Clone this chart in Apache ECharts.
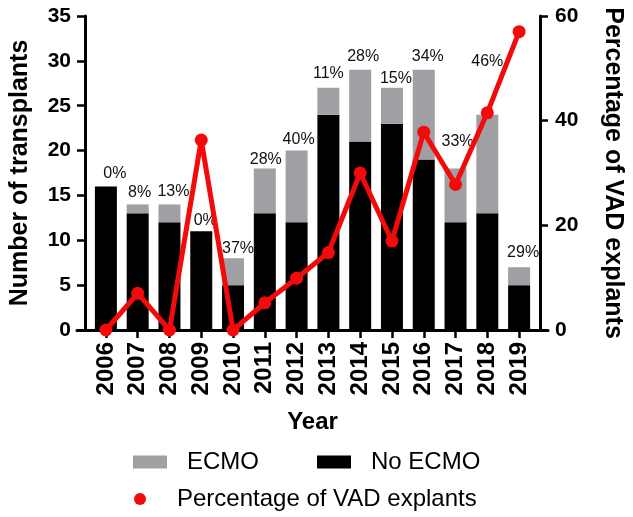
<!DOCTYPE html>
<html>
<head>
<meta charset="utf-8">
<script src="https://cdn.jsdelivr.net/npm/echarts@6/dist/echarts.min.js"></script>
<style>html,body{margin:0;padding:0;background:#fff;}#c{width:633px;height:517px;}</style>
</head>
<body>
<div id="c"></div>
<script>
const years = ['2006','2007','2008','2009','2010','2011','2012','2013','2014','2015','2016','2017','2018','2019'];
const noEcmo = [16,13,12,11,5,13,12,24,21,23,19,12,13,5];
const ecmo = [0,1,2,0,3,5,8,3,8,4,10,6,11,2];
const vadPct = [0,7,0,36.3,0,5.2,9.9,14.8,30,17,37.8,27.8,41.5,57];
const pctLabels = ['0%','8%','13%','0%','37%','28%','40%','11%','28%','15%','34%','33%','46%','29%'];
// label nudges (style only)
const labelDx = [9,2,4,4,5,1,2,0,3,4,4,2,0,4];
const labelLift = [1,0,1,-1,-2,-3,-1,2,1,-3,1,15,41,3];

const FF = '"Liberation Sans", Arial, sans-serif';
const chart = echarts.init(document.getElementById('c'));
const ecmoData = ecmo.map((v,i)=>({
  value: v,
  label: {formatter: pctLabels[i], offset: [labelDx[i], -labelLift[i]]}
}));
chart.setOption({
  animation: false,
  grid: [
    {left: 82, right: 90, top: 16, bottom: 187},
    {left: 77, right: 85, top: 16, bottom: 187}
  ],
  legend: [
    {data: [{name: 'ECMO', icon: 'rect'}, {name: 'No ECMO', icon: 'rect'}], left: 133, top: 450, padding: 0, itemWidth: 34, itemHeight: 13, itemGap: 58,
     textStyle: {fontFamily: FF, fontSize: 24, color: '#000', padding: [0,0,0,15]}},
    {data: [{name: 'Percentage of VAD explants', icon: 'circle'}], left: 134, top: 487, padding: 0, itemWidth: 12, itemHeight: 12,
     textStyle: {fontFamily: FF, fontSize: 24, color: '#000', padding: [0,0,0,26]}}
  ],
  xAxis: [
    {type: 'category', data: years, gridIndex: 0,
     name: 'Year', nameLocation: 'middle', nameGap: 80,
     nameTextStyle: {fontFamily: FF, fontSize: 24, fontWeight: 'bold', color: '#000'},
     axisLine: {show: false},
     axisTick: {show: true, alignWithLabel: true, length: 8, lineStyle: {color: '#000', width: 2.5}},
     axisLabel: {rotate: 90, margin: 12, fontFamily: FF, fontSize: 24, fontWeight: 'bold', color: '#000'}},
    {type: 'value', gridIndex: 1, min: 0, max: 1,
     axisLine: {show: true, lineStyle: {color: '#000', width: 3}},
     axisTick: {show: false}, axisLabel: {show: false}, splitLine: {show: false}}
  ],
  yAxis: [
    {type: 'value', gridIndex: 0, min: 0, max: 35, interval: 5, offset: 5,
     name: 'Number of transplants', nameLocation: 'middle', nameGap: 52,
     nameTextStyle: {fontFamily: FF, fontSize: 25, fontWeight: 'bold', color: '#000'},
     axisLine: {show: true, lineStyle: {color: '#000', width: 3}},
     axisTick: {show: true, length: 8, lineStyle: {color: '#000', width: 2.5}},
     axisLabel: {margin: 14, fontFamily: FF, fontSize: 21, fontWeight: 'bold', color: '#000'},
     splitLine: {show: false}},
    {type: 'value', gridIndex: 0, position: 'right', min: 0, max: 60, interval: 20, offset: 5,
     name: 'Percentage of VAD explants', nameLocation: 'middle', nameGap: 60, nameRotate: -90,
     nameTextStyle: {fontFamily: FF, fontSize: 25, fontWeight: 'bold', color: '#000'},
     axisLine: {show: true, lineStyle: {color: '#000', width: 3}},
     axisTick: {show: true, length: 8, lineStyle: {color: '#000', width: 2.5}},
     axisLabel: {margin: 15, fontFamily: FF, fontSize: 21, fontWeight: 'bold', color: '#000'},
     splitLine: {show: false}},
    {type: 'value', gridIndex: 1, show: false, min: 0, max: 1}
  ],
  series: [
    {name: 'No ECMO', type: 'bar', stack: 't', data: noEcmo, barWidth: 22,
     itemStyle: {color: '#000'}},
    {name: 'ECMO', type: 'bar', stack: 't', data: ecmoData, barWidth: 22,
     itemStyle: {color: '#a0a0a4'},
     label: {show: true, position: 'top', distance: 4, fontFamily: FF, fontSize: 16, color: '#111'}},
    {name: 'Percentage of VAD explants', type: 'line', yAxisIndex: 1, data: vadPct, z: 5,
     symbol: 'circle', symbolSize: 13, lineStyle: {color: '#f40a0a', width: 5},
     itemStyle: {color: '#f40a0a'}}
  ]
});
</script>
</body>
</html>
